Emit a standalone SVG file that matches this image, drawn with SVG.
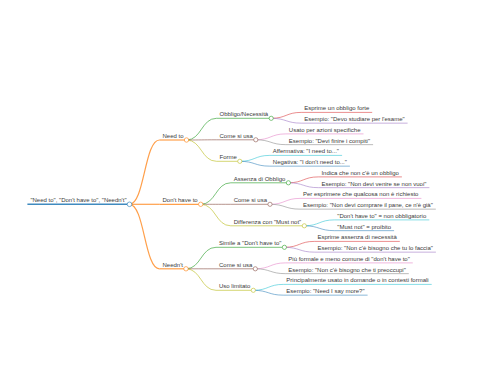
<svg xmlns="http://www.w3.org/2000/svg" width="480" height="384" viewBox="0 0 480 384">
<style>
text{font-family:"Liberation Sans",Arial,sans-serif;font-size:6px;fill:#3a3a3a}
path{fill:none}
circle{fill:#fff;stroke-width:0.6}
.d0{stroke-width:1.5;stroke-opacity:0.85}.d1{stroke-width:1.2;stroke-opacity:0.75}.d2{stroke-width:0.9;stroke-opacity:0.7}.d3{stroke-width:0.7;stroke-opacity:0.75}
.blue{stroke:#1f77b4}.orange{stroke:#ff7f0e}.green{stroke:#2ca02c}.brown{stroke:#8c564b}.olive{stroke:#bcbd22}
.red{stroke:#d62728}.purple{stroke:#9467bd}.pink{stroke:#e377c2}.gray{stroke:#7f7f7f}.cyan{stroke:#17becf}
</style>
<rect width="480" height="384" fill="#fff"/>
<g id="connectors">
<path class="d1 orange" d="M129.5 204.3C144.5 204.3 144.5 140 159.5 140"/>
<path class="d1 orange" d="M129.5 204.3C144.5 204.3 144.5 204.3 159.5 204.3"/>
<path class="d1 orange" d="M129.5 204.3C144.5 204.3 144.5 268.8 159.5 268.8"/>
<path class="d2 green" d="M186.5 140C201.5 140 201.5 118.3 216.5 118.3"/>
<path class="d2 brown" d="M186.5 140C201.5 140 201.5 139.8 216.5 139.8"/>
<path class="d2 olive" d="M186.5 140C201.5 140 201.5 161.3 216.5 161.3"/>
<path class="d2 green" d="M200.7 204.3C215.7 204.3 215.7 182.8 230.7 182.8"/>
<path class="d2 brown" d="M200.7 204.3C215.7 204.3 215.7 204.3 230.7 204.3"/>
<path class="d2 olive" d="M200.7 204.3C215.7 204.3 215.7 225.8 230.7 225.8"/>
<path class="d2 green" d="M186 268.8C201 268.8 201 247.3 216 247.3"/>
<path class="d2 brown" d="M186 268.8C201 268.8 201 268.8 216 268.8"/>
<path class="d2 olive" d="M186 268.8C201 268.8 201 290.3 216 290.3"/>
<path class="d3 red" d="M271.2 118.3C286.2 118.3 286.2 112.4 301.2 112.4"/>
<path class="d3 purple" d="M271.2 118.3C286.2 118.3 286.2 123.15 301.2 123.15"/>
<path class="d3 pink" d="M255.8 139.8C270.8 139.8 270.8 133.9 285.8 133.9"/>
<path class="d3 gray" d="M255.8 139.8C270.8 139.8 270.8 144.65 285.8 144.65"/>
<path class="d3 cyan" d="M239.8 161.3C254.8 161.3 254.8 155.4 269.8 155.4"/>
<path class="d3 blue" d="M239.8 161.3C254.8 161.3 254.8 166.15 269.8 166.15"/>
<path class="d3 red" d="M288.4 182.8C303.4 182.8 303.4 176.9 318.4 176.9"/>
<path class="d3 purple" d="M288.4 182.8C303.4 182.8 303.4 187.65 318.4 187.65"/>
<path class="d3 pink" d="M270 204.3C285 204.3 285 198.4 300 198.4"/>
<path class="d3 gray" d="M270 204.3C285 204.3 285 209.15 300 209.15"/>
<path class="d3 cyan" d="M304.3 225.8C319.3 225.8 319.3 219.9 334.3 219.9"/>
<path class="d3 blue" d="M304.3 225.8C319.3 225.8 319.3 230.65 334.3 230.65"/>
<path class="d3 red" d="M284.4 247.3C299.4 247.3 299.4 241.4 314.4 241.4"/>
<path class="d3 purple" d="M284.4 247.3C299.4 247.3 299.4 252.15 314.4 252.15"/>
<path class="d3 pink" d="M255.3 268.8C270.3 268.8 270.3 262.9 285.3 262.9"/>
<path class="d3 gray" d="M255.3 268.8C270.3 268.8 270.3 273.65 285.3 273.65"/>
<path class="d3 cyan" d="M253.3 290.3C268.3 290.3 268.3 284.4 283.3 284.4"/>
<path class="d3 blue" d="M253.3 290.3C268.3 290.3 268.3 295.15 283.3 295.15"/>
</g>
<g id="root"><path class="d0 blue" d="M27.4 204.3H129.5"/><circle class="blue" cx="129.5" cy="204.3" r="2.3"/><text x="30.4" y="202.1">"Need to", "Don't have to", "Needn't"</text></g>

<g id="need-to"><path class="d1 orange" d="M159.5 140H186.5"/><circle class="orange" cx="186.5" cy="140" r="2.2"/><text x="162.5" y="137.8">Need to</text></g>
<g id="dont-have-to"><path class="d1 orange" d="M159.5 204.3H200.7"/><circle class="orange" cx="200.7" cy="204.3" r="2.2"/><text x="162.5" y="202.1">Don't have to</text></g>
<g id="neednt"><path class="d1 orange" d="M159.5 268.8H186"/><circle class="orange" cx="186" cy="268.8" r="2.2"/><text x="162.5" y="266.6">Needn't</text></g>

<g id="obbligo"><path class="d2 green" d="M216.5 118.3H271.2"/><circle class="green" cx="271.2" cy="118.3" r="2.1"/><text x="219.5" y="116.1">Obbligo/Necessità</text></g>
<g id="need-come"><path class="d2 brown" d="M216.5 139.8H255.8"/><circle class="brown" cx="255.8" cy="139.8" r="2.1"/><text x="219.5" y="137.6">Come si usa</text></g>
<g id="forme"><path class="d2 olive" d="M216.5 161.3H239.8"/><circle class="olive" cx="239.8" cy="161.3" r="2.1"/><text x="219.5" y="159.1">Forme</text></g>
<g id="assenza"><path class="d2 green" d="M230.7 182.8H288.4"/><circle class="green" cx="288.4" cy="182.8" r="2.1"/><text x="233.7" y="180.6">Assenza di Obbligo</text></g>
<g id="dont-come"><path class="d2 brown" d="M230.7 204.3H270"/><circle class="brown" cx="270" cy="204.3" r="2.1"/><text x="233.7" y="202.1">Come si usa</text></g>
<g id="differenza"><path class="d2 olive" d="M230.7 225.8H304.3"/><circle class="olive" cx="304.3" cy="225.8" r="2.1"/><text x="233.7" y="223.6">Differenza con "Must not"</text></g>
<g id="simile"><path class="d2 green" d="M216 247.3H284.4"/><circle class="green" cx="284.4" cy="247.3" r="2.1"/><text x="219" y="245.1">Simile a "Don't have to"</text></g>
<g id="neednt-come"><path class="d2 brown" d="M216 268.8H255.3"/><circle class="brown" cx="255.3" cy="268.8" r="2.1"/><text x="219" y="266.6">Come si usa</text></g>
<g id="uso"><path class="d2 olive" d="M216 290.3H253.3"/><circle class="olive" cx="253.3" cy="290.3" r="2.1"/><text x="219" y="288.1">Uso limitato</text></g>

<g id="l1"><path class="d3 red" d="M301.2 112.4H372.2"/><text x="304.2" y="110.3">Esprime un obbligo forte</text></g>
<g id="l2"><path class="d3 purple" d="M301.2 123.15H407.6"/><text x="304.2" y="121.05">Esempio: "Devo studiare per l'esame"</text></g>
<g id="l3"><path class="d3 pink" d="M285.8 133.9H363.5"/><text x="288.8" y="131.8">Usato per azioni specifiche</text></g>
<g id="l4"><path class="d3 gray" d="M285.8 144.65H373.1"/><text x="288.8" y="142.55">Esempio: "Devi finire i compiti"</text></g>
<g id="l5"><path class="d3 cyan" d="M269.8 155.4H342.1"/><text x="272.8" y="153.3">Affermativa: "I need to..."</text></g>
<g id="l6"><path class="d3 blue" d="M269.8 166.15H349.9"/><text x="272.8" y="164.05">Negativa: "I don't need to..."</text></g>
<g id="l7"><path class="d3 red" d="M318.4 176.9H401.9"/><text x="321.4" y="174.8">Indica che non c'è un obbligo</text></g>
<g id="l8"><path class="d3 purple" d="M318.4 187.65H429.4"/><text x="321.4" y="185.55">Esempio: "Non devi venire se non vuoi"</text></g>
<g id="l9"><path class="d3 pink" d="M300 198.4H421.4"/><text x="303" y="196.3">Per esprimere che qualcosa non è richiesto</text></g>
<g id="l10"><path class="d3 gray" d="M300 209.15H435.8"/><text x="303" y="207.05">Esempio: "Non devi comprare il pane, ce n'è già"</text></g>
<g id="l11"><path class="d3 cyan" d="M334.3 219.9H429.3"/><text x="337.3" y="217.8">"Don't have to" = non obbligatorio</text></g>
<g id="l12"><path class="d3 blue" d="M334.3 230.65H394.1"/><text x="337.3" y="228.55">"Must not" = proibito</text></g>
<g id="l13"><path class="d3 red" d="M314.4 241.4H399.8"/><text x="317.4" y="239.3">Esprime assenza di necessità</text></g>
<g id="l14"><path class="d3 purple" d="M314.4 252.15H435.9"/><text x="317.4" y="250.05">Esempio: "Non c'è bisogno che tu lo faccia"</text></g>
<g id="l15"><path class="d3 pink" d="M285.3 262.9H412.8"/><text x="288.3" y="260.8">Più formale e meno comune di "don't have to"</text></g>
<g id="l16"><path class="d3 gray" d="M285.3 273.65H408.8"/><text x="288.3" y="271.55">Esempio: "Non c'è bisogno che ti preoccupi"</text></g>
<g id="l17"><path class="d3 cyan" d="M283.3 284.4H431.7"/><text x="286.3" y="282.3">Principalmente usato in domande o in contesti formali</text></g>
<g id="l18"><path class="d3 blue" d="M283.3 295.15H367.6"/><text x="286.3" y="293.05">Esempio: "Need I say more?"</text></g>
</svg>
